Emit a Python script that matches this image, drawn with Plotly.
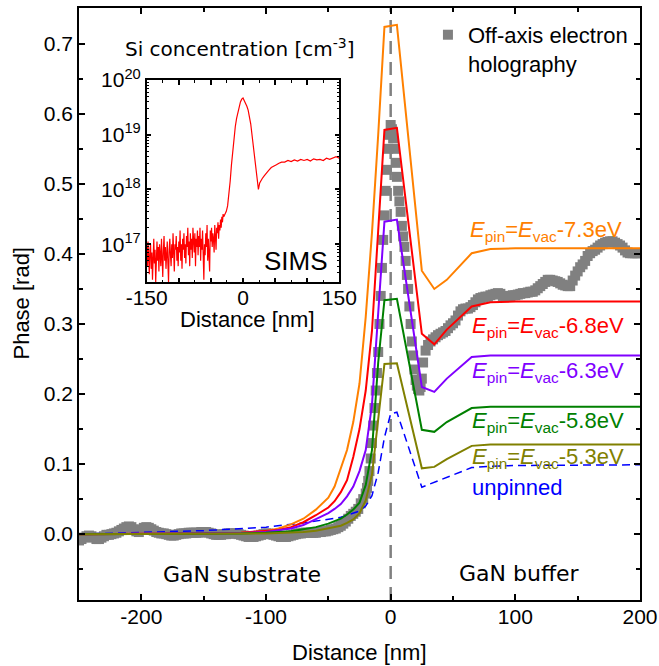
import plotly.graph_objects as go

# ---------------- data ----------------
X_SIM = [-250, -200, -150, -120, -100, -90, -80, -70, -60, -50, -45, -40, -35, -30, -25, -20, -15, -10, -5, 5, 25, 35, 45, 65, 80, 100, 200]
PHASE_73 = [0, 0.0005, 0.001, 0.002, 0.004, 0.008, 0.014, 0.022, 0.035, 0.052, 0.068, 0.095, 0.12, 0.16, 0.215, 0.31, 0.43, 0.57, 0.724, 0.727, 0.376, 0.35, 0.363, 0.401, 0.407, 0.408, 0.408]
PHASE_68 = [0, 0.0003, 0.001, 0.002, 0.004, 0.006, 0.01, 0.017, 0.027, 0.038, 0.047, 0.06, 0.077, 0.11, 0.15, 0.205, 0.29, 0.43, 0.577, 0.58, 0.286, 0.271, 0.292, 0.325, 0.331, 0.332, 0.332]
PHASE_63 = [0, 0.0002, 0.0007, 0.0015, 0.003, 0.005, 0.008, 0.013, 0.021, 0.03, 0.036, 0.043, 0.054, 0.068, 0.09, 0.12, 0.185, 0.31, 0.446, 0.449, 0.21, 0.203, 0.222, 0.253, 0.255, 0.255, 0.255]
PHASE_58 = [0, 0.0001, 0.0005, 0.001, 0.002, 0.003, 0.004, 0.007, 0.01, 0.015, 0.019, 0.022, 0.028, 0.035, 0.045, 0.07, 0.12, 0.245, 0.334, 0.336, 0.149, 0.146, 0.16, 0.18, 0.182, 0.182, 0.182]
PHASE_53 = [0, 0.0001, 0.0003, 0.0005, 0.001, 0.0015, 0.002, 0.003, 0.005, 0.008, 0.01, 0.012, 0.016, 0.021, 0.03, 0.048, 0.085, 0.165, 0.243, 0.244, 0.094, 0.096, 0.107, 0.126, 0.128, 0.128, 0.128]

X_UNPIN = [-250, -200, -150, -100, -70, -40, -25, -20, -15, -10, -5, 0, 5, 25, 35, 50, 65, 80, 100, 200]
PHASE_UNPIN = [0, 0.002, 0.005, 0.01, 0.016, 0.024, 0.033, 0.04, 0.055, 0.088, 0.138, 0.172, 0.174, 0.067, 0.074, 0.085, 0.095, 0.097, 0.098, 0.099]

# off-axis electron holography: substrate side (every 2 nm), junction (1 nm), buffer side (2 nm)
X_HOLO_SUB = list(range(-250, -41, 2))
PHASE_HOLO_SUB = [-0.009, -0.007, -0.005, -0.003, -0.002, -0.003, -0.005, -0.007, -0.007, -0.005,
                  -0.003, -0.001, -0.001, 0.000, 0.001, 0.002, 0.004, 0.006, 0.008, 0.010,
                  0.011, 0.010, 0.007, 0.004, 0.003, 0.006, 0.009, 0.010, 0.009, 0.007,
                  0.005, 0.003, 0.002, 0.001, 0.001, 0.000, -0.001, -0.002, -0.002, -0.001,
                  0.000, 0.001, 0.001, 0.001, 0.002, 0.002, 0.002, 0.002, 0.002, 0.003,
                  0.003, 0.003, 0.002, 0.001, 0.000, -0.001, -0.001, -0.001, 0.000, 0.000,
                  0.001, 0.001, 0.001, 0.001, 0.000, -0.001, -0.002, -0.003, -0.004, -0.004,
                  -0.004, -0.003, -0.002, -0.001, 0.000, 0.001, 0.001, 0.000, -0.001, -0.002,
                  -0.003, -0.004, -0.004, -0.004, -0.003, -0.002, -0.001, 0.000, 0.001, 0.001,
                  0.002, 0.002, 0.002, 0.002, 0.002, 0.002, 0.003, 0.003, 0.004, 0.004,
                  0.005, 0.006, 0.007, 0.008, 0.010]
X_HOLO_JUNC = [-40, -38, -36, -34, -32, -30, -28, -26, -24, -22, -20, -19, -18, -17, -16, -15, -14, -13, -12, -11,
               -10, -9, -8, -7, -6, -5, -4, -3, -2, -1, 0, 1, 2, 3, 4, 5, 6, 7, 8, 9,
               10, 11, 12, 13, 14, 15, 16, 17, 18, 19, 20, 21, 22, 23, 24, 25]
PHASE_HOLO_JUNC = [0.012, 0.015, 0.018, 0.022, 0.026, 0.029, 0.032, 0.036, 0.044, 0.050, 0.058, 0.066, 0.076, 0.090, 0.108, 0.13, 0.155, 0.18, 0.205, 0.23,
                   0.26, 0.30, 0.34, 0.38, 0.42, 0.455, 0.49, 0.52, 0.55, 0.57, 0.584, 0.578, 0.565, 0.55, 0.53, 0.51, 0.49, 0.475, 0.46, 0.44,
                   0.425, 0.41, 0.39, 0.37, 0.35, 0.325, 0.30, 0.275, 0.255, 0.235, 0.22, 0.212, 0.207, 0.205, 0.21, 0.222]
X_HOLO_BUF = list(range(26, 201, 2))
PHASE_HOLO_BUF = [0.245, 0.262, 0.270, 0.275, 0.278, 0.281, 0.284, 0.286, 0.288, 0.290,
                  0.294, 0.298, 0.301, 0.305, 0.312, 0.318, 0.321, 0.322, 0.322, 0.324,
                  0.327, 0.331, 0.335, 0.337, 0.338, 0.339, 0.339, 0.341, 0.342, 0.343,
                  0.344, 0.343, 0.340, 0.339, 0.339, 0.340, 0.341, 0.341, 0.342, 0.343,
                  0.344, 0.344, 0.345, 0.346, 0.346, 0.348, 0.351, 0.354, 0.357, 0.360,
                  0.363, 0.363, 0.362, 0.361, 0.360, 0.358, 0.356, 0.355, 0.354, 0.354,
                  0.362, 0.369, 0.375, 0.381, 0.385, 0.390, 0.397, 0.401, 0.404, 0.406,
                  0.409, 0.412, 0.414, 0.416, 0.417, 0.418, 0.418, 0.416, 0.414, 0.412,
                  0.409, 0.405, 0.402, 0.401, 0.401, 0.401, 0.401, 0.401]
X_HOLO = X_HOLO_SUB + X_HOLO_JUNC + X_HOLO_BUF
PHASE_HOLO = PHASE_HOLO_SUB + PHASE_HOLO_JUNC + PHASE_HOLO_BUF

# SIMS inset (log10 of Si concentration in cm^-3)
X_SIMS_NOISY = list(range(-150, -29, 1))
LOG_SIMS_NOISY = [16.95, 16.6, 17.05, 16.8, 16.45, 16.9, 17.0, 16.55, 16.85, 16.35,
                  16.75, 17.1, 16.65, 16.9, 16.3, 16.8, 17.05, 16.7, 16.95, 16.5,
                  17.0, 16.8, 16.6, 17.1, 16.85, 16.4, 16.9, 17.15, 16.7, 16.95,
                  16.55, 16.85, 17.05, 16.65, 16.3, 16.9, 17.1, 16.8, 16.6, 17.0,
                  16.75, 17.2, 16.85, 16.5, 17.0, 16.9, 17.15, 16.7, 16.95, 16.6,
                  17.05, 16.85, 17.25, 16.7, 17.0, 16.55, 17.1, 16.9, 17.2, 16.75,
                  17.0, 16.65, 17.15, 16.95, 17.3, 16.8, 17.05, 16.6, 17.2, 16.9,
                  17.1, 16.75, 17.3, 17.0, 16.85, 17.2, 16.6, 17.1, 16.95, 17.25,
                  16.8, 17.15, 16.95, 17.3, 16.7, 17.1, 16.9, 17.25, 16.55, 16.35,
                  17.0, 16.8, 17.2, 16.95, 17.35, 16.7, 17.1, 16.9, 16.5, 17.25,
                  17.05, 17.3, 16.95, 17.2, 17.1, 16.85, 17.35, 17.15, 16.9, 17.3,
                  17.2, 17.4, 17.1, 17.35, 17.25, 17.45, 17.3, 17.5, 17.4, 17.55,
                  17.5]
X_SIMS_PEAK = [-28, -26, -24, -22, -20, -18, -16, -14, -12, -10, -8, -6, -4, -2, 0, 2, 4, 6, 8, 10,
               12, 14, 16, 18, 20, 22, 24, 26, 28, 30, 33, 36, 40, 44, 48, 52, 56, 60, 65, 70,
               75, 80, 85, 90, 95, 100, 105, 110, 115, 120, 125, 130, 135, 140, 145, 150]
LOG_SIMS_PEAK = [17.55, 17.6, 17.7, 17.9, 18.15, 18.45, 18.7, 18.95, 19.15, 19.3, 19.42, 19.52, 19.6, 19.65, 19.67, 19.62, 19.58, 19.52, 19.45, 19.35,
                 19.2, 19.0, 18.8, 18.55, 18.3, 18.1, 18.0, 18.12, 18.15, 18.2, 18.25, 18.3, 18.35, 18.4, 18.42, 18.45, 18.48, 18.5, 18.5, 18.53,
                 18.51, 18.54, 18.52, 18.55, 18.53, 18.55, 18.52, 18.56, 18.54, 18.55, 18.53, 18.57, 18.55, 18.58, 18.6, 18.57]
X_SIMS = X_SIMS_NOISY + X_SIMS_PEAK
CONC_SIMS = [10.0 ** v for v in LOG_SIMS_NOISY + LOG_SIMS_PEAK]

X_TICKS = [-200, -100, 0, 100, 200]
X_TICKTEXT = ["-200", "-100", "0", "100", "200"]
Y_TICKS = [0.0, 0.1, 0.2, 0.3, 0.4, 0.5, 0.6, 0.7]
Y_TICKTEXT = ["0.0", "0.1", "0.2", "0.3", "0.4", "0.5", "0.6", "0.7"]
INSET_YTICKS = [1e17, 1e18, 1e19, 1e20]
INSET_YTEXT = ["10<sup>17</sup>", "10<sup>18</sup>", "10<sup>19</sup>", "10<sup>20</sup>"]
INSET_XTICKS = [-150, -100, -50, 0, 50, 100, 150]
INSET_XTEXT = ["-150", "", "", "0", "", "", "150"]

SIM_LABELS = ["-7.3eV", "-6.8eV", "-6.3eV", "-5.8eV", "-5.3eV"]
SIM_COLORS = ["#FF8000", "#FF0000", "#8000FF", "#008000", "#808000"]
LABEL_X = [62, 64, 64, 64, 64]
LABEL_Y = [0.432, 0.2963, 0.232, 0.1606, 0.1084]

ARIAL = "Arial, Liberation Sans, sans-serif"
VERD = "DejaVu Sans, Verdana, sans-serif"

fig = go.Figure()

fig.add_trace(go.Scatter(x=X_HOLO, y=PHASE_HOLO, mode="markers",
                         marker=dict(symbol="square", size=10, color="#808080"),
                         name="Off-axis electron<br>holography", showlegend=True))
fig.add_trace(go.Scatter(x=X_UNPIN, y=PHASE_UNPIN, mode="lines",
                         line=dict(color="#0000FF", width=1.5, dash="8px,5px"), showlegend=False))
for yv, col in zip([PHASE_73, PHASE_68, PHASE_63, PHASE_58, PHASE_53], SIM_COLORS):
    fig.add_trace(go.Scatter(x=X_SIM, y=yv, mode="lines", line=dict(color=col, width=2), showlegend=False))

# inset
fig.add_trace(go.Scatter(x=X_SIMS, y=CONC_SIMS, mode="lines", line=dict(color="#FF0000", width=1.2),
                         xaxis="x2", yaxis="y2", showlegend=False))

# vertical dashed line at 0
fig.add_shape(type="line", x0=0, x1=0, y0=0, y1=1, xref="x", yref="paper",
              line=dict(color="#808080", width=2.5, dash="13px,8px"), layer="below")

for lab, col, xx, yy in zip(SIM_LABELS, SIM_COLORS, LABEL_X, LABEL_Y):
    fig.add_annotation(x=xx, y=yy, xref="x", yref="y", xanchor="left", yanchor="middle", showarrow=False,
                       text="<i>E</i><sub>pin</sub>=<i>E</i><sub>vac</sub>" + lab,
                       font=dict(family=ARIAL, size=22, color=col))
fig.add_annotation(x=64, y=0.066, xref="x", yref="y", xanchor="left", yanchor="middle", showarrow=False,
                   text="unpinned", font=dict(family=ARIAL, size=22, color="#0000FF"))


def note(x, y, text, font, ref="paper", angle=0):
    fig.add_annotation(x=x, y=y, xref="x" if ref == "data" else "paper", yref="y" if ref == "data" else "paper",
                       xanchor="center", yanchor="middle", showarrow=False, textangle=angle,
                       text=text, font=font)


note(-119, -0.057, "GaN substrate", dict(family=VERD, size=22, color="black"), ref="data")
note(103, -0.056, "GaN buffer", dict(family=VERD, size=22, color="black"), ref="data")
note(0.287, 0.932, "Si concentration [cm<sup>-3</sup>]", dict(family=VERD, size=20, color="black"))
note(0.3868, 0.5726, "SIMS", dict(family=ARIAL, size=26, color="black"))
note(0.3012, 0.4730, "Distance [nm]", dict(family=ARIAL, size=22, color="black"))
note(0.5, -0.0895, "Distance [nm]", dict(family=ARIAL, size=22, color="black"))
note(-0.1016, 0.5008, "Phase [rad]", dict(family=ARIAL, size=22, color="black"), angle=-90)

axis_common = dict(showline=True, linecolor="black", linewidth=1.5, mirror="allticks",
                   ticks="inside", ticklen=6, tickwidth=1.5, tickcolor="black",
                   showgrid=False, zeroline=False, automargin=False,
                   tickfont=dict(family=ARIAL, size=21, color="black"))

MINOR_LOG = [float(m) * 10.0 ** e for e in range(16, 20) for m in range(2, 10)]

fig.update_layout(
    template="none",
    width=659, height=666,
    margin=dict(l=79, r=19, t=8, b=66, autoexpand=False),
    paper_bgcolor="white", plot_bgcolor="white",
    font=dict(family=ARIAL, color="black"),
    xaxis=dict(range=[-250, 200], tickmode="array", tickvals=X_TICKS, ticktext=X_TICKTEXT,
               ticklabelstandoff=-3,
               minor=dict(dtick=50, ticks="inside", ticklen=4, tickwidth=1.5, tickcolor="black"),
               **axis_common),
    yaxis=dict(range=[-0.094, 0.751], tickmode="array", tickvals=Y_TICKS, ticktext=Y_TICKTEXT,
               minor=dict(dtick=0.05, ticks="inside", ticklen=4, tickwidth=1.5, tickcolor="black"),
               **axis_common),
    xaxis2=dict(domain=[0.1207, 0.464], anchor="y2", range=[-150, 150], tickmode="array",
                tickvals=INSET_XTICKS, ticktext=INSET_XTEXT, ticklabelstandoff=-4,
                minor=dict(dtick=25, ticks="inside", ticklen=3, tickwidth=1, tickcolor="black"),
                **{**axis_common, "ticklen": 5}),
    yaxis2=dict(domain=[0.5367, 0.8784], anchor="x2", type="log", range=[16.305, 20.0], tickmode="array",
                tickvals=INSET_YTICKS, ticktext=INSET_YTEXT,
                minor=dict(tickmode="array", tickvals=MINOR_LOG,
                           ticks="inside", ticklen=3, tickwidth=1, tickcolor="black"),
                **{**axis_common, "ticklen": 5}),
    legend=dict(x=0.622, y=0.99, xanchor="left", yanchor="top", bgcolor="rgba(0,0,0,0)",
                font=dict(family=ARIAL, size=22, color="black"), itemwidth=30, valign="top"),
    showlegend=True,
)

fig.write_html("out.html")
